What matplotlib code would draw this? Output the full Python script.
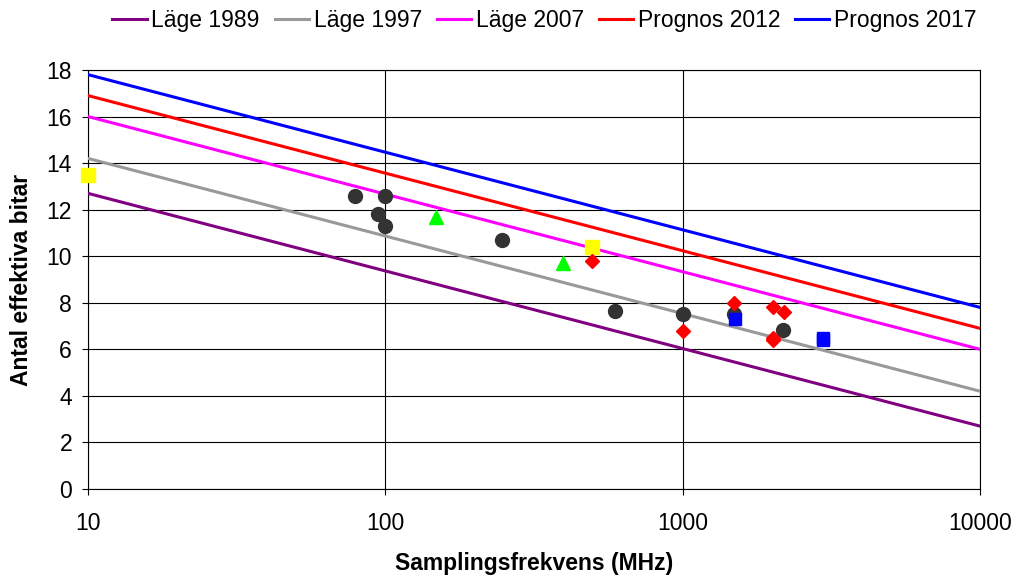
import matplotlib.pyplot as plt

plt.rcParams['font.family'] = ['Liberation Sans', 'DejaVu Sans']

# Trend lines: effective bits at 10 MHz and 10 GHz
trend_x = [10, 10000]
trend_names = ['Läge 1989', 'Läge 1997', 'Läge 2007', 'Prognos 2012', 'Prognos 2017']
trend_y = [
    [12.7, 2.7],
    [14.2, 4.2],
    [16.0, 6.0],
    [16.9, 6.9],
    [17.8, 7.8],
]
trend_colors = ['#800080', '#999999', '#ff00ff', '#ff0000', '#0000ff']

# Measured converters
circle_x = [79, 94.5, 100, 100, 247, 593, 1000, 1489, 2180]
circle_y = [12.6, 11.8, 12.6, 11.3, 10.7, 7.65, 7.5, 7.5, 6.85]
triangle_x = [148, 396]
triangle_y = [11.7, 9.7]
yellow_x = [10, 495]
yellow_y = [13.5, 10.4]
diamond_x = [495, 1000, 1489, 2011, 2190, 2011, 2011]
diamond_y = [9.8, 6.8, 8.0, 7.8, 7.6, 6.5, 6.4]
blue_x = [1500, 2970, 2970]
blue_y = [7.3, 6.5, 6.4]

fig = plt.figure(figsize=(10.14, 5.75), dpi=100)
ax = fig.add_axes([0.0868, 0.1496, 0.8797, 0.7287])

for name, ys, c in zip(trend_names, trend_y, trend_colors):
    ax.plot(trend_x, ys, color=c, lw=2.2, label=name, zorder=3)

ax.plot(circle_x, circle_y, 'o', color='#333333', ms=10, zorder=4, clip_on=False)
ax.plot(triangle_x, triangle_y, '^', color='#00ff00', ms=10, zorder=4, clip_on=False)
ax.plot(yellow_x, yellow_y, 's', color='#ffff00', ms=9.5, zorder=4, clip_on=False)
ax.plot(diamond_x, diamond_y, 'D', color='#ff0000', ms=7, zorder=5, clip_on=False)
ax.plot(blue_x, blue_y, 's', color='#0000ff', ms=9, zorder=4, clip_on=False)

ax.set_xscale('log')
ax.set_xlim(10, 10000)
ax.set_ylim(0, 18)
ax.set_yticks(range(0, 19, 2))
ax.set_xticks([10, 100, 1000, 10000])
ax.set_xticklabels(['10', '100', '1000', '10000'])
ax.minorticks_off()
ax.grid(True, color='black', lw=0.8, zorder=0)
ax.tick_params(labelsize=16.5, direction='out', length=4.5, width=0.8, pad=7)
ax.tick_params(axis='x', pad=12)
for s in ax.spines.values():
    s.set_linewidth(0.8)

ax.set_xlabel('Samplingsfrekvens (MHz)', fontsize=16.5, fontweight='bold', labelpad=12)
ax.set_ylabel('Antal effektiva bitar', fontsize=16.5, fontweight='bold', labelpad=10)

fig.legend(loc='upper center', bbox_to_anchor=(0.537, 1.02), ncol=5, frameon=False,
           fontsize=16.5, handlelength=1.5, handletextpad=0.2, columnspacing=0.65)

fig.savefig('out.png', dpi=100, facecolor='white')
